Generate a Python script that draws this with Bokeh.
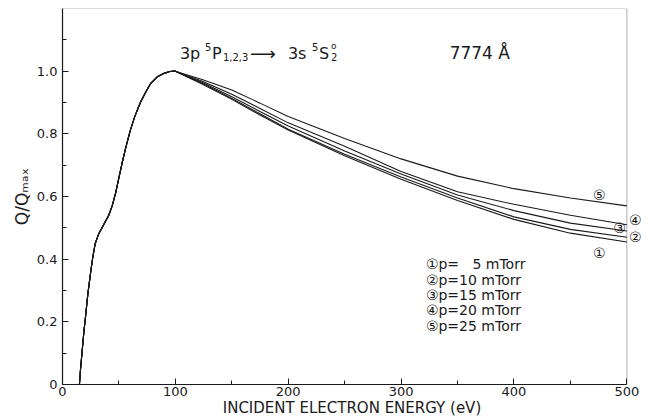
from bokeh.plotting import figure
from bokeh.models import FixedTicker, CustomJSTickFormatter, Label, Range1d, BoxAnnotation
from bokeh.embed import file_html
from bokeh.resources import INLINE

# ---------------- data ----------------
rise_energy = [15, 16, 17.5, 19, 20.5, 22.5, 25, 27, 29, 32, 35, 38, 41, 44, 47, 50, 53, 56, 60, 64, 69, 74, 78, 84, 90, 95, 100]
rise_q = [0.0, 0.05, 0.11, 0.17, 0.22, 0.29, 0.36, 0.41, 0.45, 0.48, 0.50, 0.52, 0.54, 0.57, 0.61, 0.66, 0.71, 0.755, 0.81, 0.855, 0.90, 0.935, 0.96, 0.982, 0.993, 0.999, 1.0]

fall_energy = [100, 125, 150, 175, 200, 250, 300, 350, 400, 450, 500]
q_5mtorr = [1.0, 0.957, 0.91, 0.86, 0.812, 0.73, 0.655, 0.587, 0.527, 0.483, 0.455]
q_10mtorr = [1.0, 0.959, 0.913, 0.864, 0.815, 0.735, 0.662, 0.595, 0.535, 0.495, 0.47]
q_15mtorr = [1.0, 0.962, 0.918, 0.871, 0.825, 0.745, 0.672, 0.605, 0.555, 0.515, 0.49]
q_20mtorr = [1.0, 0.966, 0.926, 0.881, 0.835, 0.76, 0.68, 0.615, 0.575, 0.54, 0.51]
q_25mtorr = [1.0, 0.972, 0.94, 0.898, 0.855, 0.785, 0.72, 0.665, 0.625, 0.595, 0.57]

curve_marks = ["\u2460", "\u2461", "\u2462", "\u2463", "\u2464"]
pressures = ["\u2007 5", "10", "15", "20", "25"]

x_ticks = [0, 100, 200, 300, 400, 500]
x_minor = [50, 150, 250, 350, 450]
y_ticks = [0, 0.2, 0.4, 0.6, 0.8, 1.0]
y_minor = [0.1, 0.3, 0.5, 0.7, 0.9, 1.1]

FONT = "DejaVu Sans"
INK = "#1a1a1a"

p = figure(width=652, height=419, output_backend="svg", toolbar_location=None,
           x_range=Range1d(0, 513), y_range=Range1d(0, 1.2),
           min_border_left=62, min_border_right=11, min_border_top=8, min_border_bottom=32)
p.xgrid.visible = False
p.ygrid.visible = False
p.outline_line_color = None
p.background_fill_color = "white"
p.border_fill_color = "white"

# plot box (closed frame from 0..500 eV)
p.add_layout(BoxAnnotation(left=0, right=500, bottom=0, top=1.2, fill_alpha=0,
                           line_color=INK, line_width=1.2))

for ax in (p.xaxis[0], p.yaxis[0]):
    ax.axis_line_color = INK
    ax.axis_line_width = 1.2
    ax.major_tick_in = 6
    ax.major_tick_out = 0
    ax.minor_tick_in = 4
    ax.minor_tick_out = 0
    ax.major_tick_line_color = INK
    ax.minor_tick_line_color = INK
    ax.major_label_text_font = FONT
    ax.major_label_text_font_size = "13px"
    ax.major_label_text_color = INK
    ax.axis_label_text_font = FONT
    ax.axis_label_text_font_style = "normal"
    ax.axis_label_text_color = INK

p.xaxis.bounds = (0, 500)
p.xaxis.ticker = FixedTicker(ticks=x_ticks, minor_ticks=x_minor)
p.yaxis.ticker = FixedTicker(ticks=y_ticks, minor_ticks=y_minor)
p.yaxis.formatter = CustomJSTickFormatter(code="return tick == 0 ? '0' : tick.toFixed(1);")
p.xaxis.major_label_standoff = 2
p.yaxis.major_label_standoff = 5
p.xaxis.axis_label = "INCIDENT ELECTRON ENERGY (eV)"
p.xaxis.axis_label_text_font_size = "15px"
p.xaxis.axis_label_standoff = 0
p.yaxis.axis_label = "Q/Q\u2098\u2090\u2093"
p.yaxis.axis_label_text_font_size = "17px"
p.yaxis.axis_label_standoff = 2

# curves
for q in (q_5mtorr, q_10mtorr, q_15mtorr, q_20mtorr, q_25mtorr):
    xs = rise_energy + fall_energy[1:]
    ys = rise_q + q[1:]
    p.line(xs, ys, line_color=INK, line_width=1.1)

# title: 3p 5P1,2,3 -> 3s 5S2o
tx, ty = 104, 1.057
title_parts = [
    ("3p", 0, 0, "16px"),
    ("5", 25, 6, "10px"),
    ("P", 32, 0, "16px"),
    ("1,2,3", 43, -4, "10px"),
    ("\u27F6", 70, 0, "18px"),
    ("3s", 108, 0, "16px"),
    ("5", 132, 6, "10px"),
    ("S", 139, 0, "16px"),
    ("o", 151, 7, "9px"),
    ("2", 151, -4, "10px"),
]
for txt, dx, dy, fs in title_parts:
    p.add_layout(Label(x=tx, y=ty, x_offset=dx, y_offset=dy, text=txt, text_font=FONT,
                       text_font_size=fs, text_color=INK, text_baseline="alphabetic"))
p.add_layout(Label(x=343, y=ty, text="7774  \u00C5", text_font=FONT, text_font_size="17px",
                   text_color=INK, text_baseline="alphabetic"))

# legend text
leg_y = [0.386, 0.333, 0.285, 0.237, 0.187]
for mark, pr, yy in zip(curve_marks, pressures, leg_y):
    p.add_layout(Label(x=322, y=yy, text=f"{mark}p={pr} mTorr", text_font=FONT,
                       text_font_size="14px", text_color=INK, text_baseline="middle"))

# curve end markers
end_pos = [(470, q_5mtorr[-1] - 0.035), (502, q_10mtorr[-1]), (488, q_15mtorr[-1] + 0.01),
           (502, q_20mtorr[-1] + 0.015), (470, q_25mtorr[-1] + 0.035)]
for mark, (ex, ey) in zip(curve_marks, end_pos):
    p.add_layout(Label(x=ex, y=ey, text=mark, text_font=FONT, text_font_size="14px",
                       text_color=INK, text_baseline="middle", text_align="left"))

open("out.html", "w").write(file_html(p, INLINE))
